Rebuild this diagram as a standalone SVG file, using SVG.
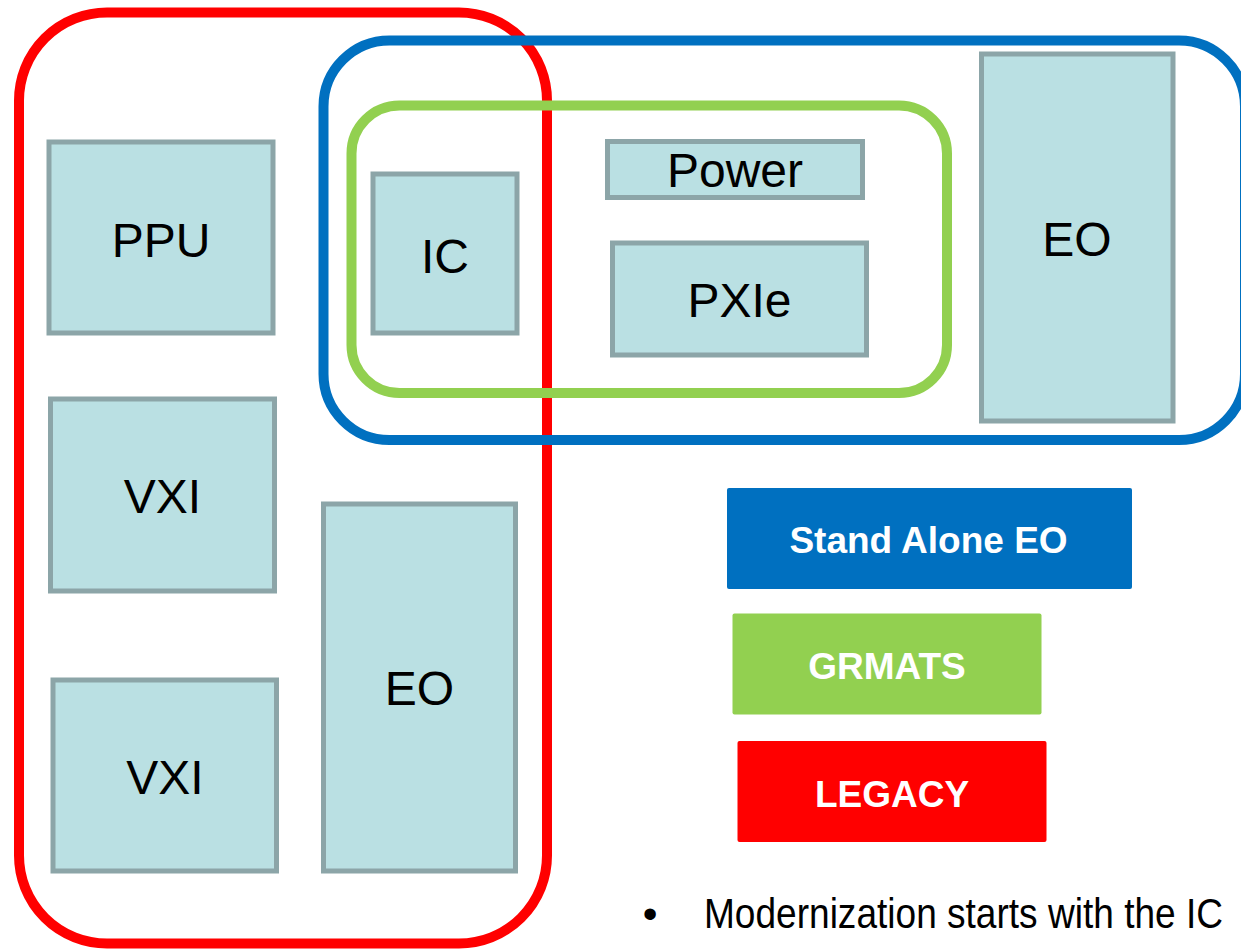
<svg xmlns="http://www.w3.org/2000/svg" width="1241" height="951" viewBox="0 0 1241 951">
<style>
.grp{fill:none;stroke-width:10}
.box{fill:#BAE0E3;stroke:#8CA5A8;stroke-width:5}
.lbl{font-family:"Liberation Sans",Arial,sans-serif;font-size:48px;fill:#000;text-anchor:middle}
.leg{font-family:"Liberation Sans",Arial,sans-serif;font-size:37px;font-weight:bold;fill:#fff;text-anchor:middle}
</style>
<rect width="1241" height="951" fill="#fff"/>
<text x="724" y="-9" font-family="Liberation Sans, Arial, sans-serif" font-size="44" font-weight="bold" text-anchor="middle" fill="#000">g</text>
<g id="groups">
<rect id="legacy-outline" class="grp" stroke="#FF0000" x="19" y="12.5" width="528" height="931" rx="88" ry="88"/>
<rect id="standalone-outline" class="grp" stroke="#0070C0" x="323.5" y="40.5" width="921.5" height="399.5" rx="66" ry="66"/>
<rect id="grmats-outline" class="grp" stroke="#92D050" x="351.5" y="105.5" width="595.5" height="287.5" rx="48" ry="48"/>
</g>
<g id="connectors"></g>
<g id="ppu"><rect class="box" x="49" y="142" width="224" height="191"/><text class="lbl" x="161" y="257">PPU</text></g>
<g id="vxi1"><rect class="box" x="50.5" y="399" width="224" height="192"/><text class="lbl" x="162.5" y="513">VXI</text></g>
<g id="vxi2"><rect class="box" x="53" y="680" width="223.5" height="191"/><text class="lbl" x="165" y="794">VXI</text></g>
<g id="eo-left"><rect class="box" x="323.5" y="504" width="192" height="367"/><text class="lbl" x="419.5" y="705">EO</text></g>
<g id="ic"><rect class="box" x="373" y="174" width="144" height="159"/><text class="lbl" x="445" y="272.5">IC</text></g>
<g id="power"><rect class="box" x="607.5" y="141.5" width="255" height="56"/><text class="lbl" x="735" y="186.5" font-size="46">Power</text></g>
<g id="pxie"><rect class="box" x="612.5" y="243" width="254" height="112"/><text class="lbl" x="739.5" y="316.5">PXIe</text></g>
<g id="eo-right"><rect class="box" x="981.5" y="54" width="191.5" height="367"/><text class="lbl" x="1077" y="256">EO</text></g>
<g id="legend-standalone"><rect x="727" y="488" width="405" height="101" rx="2" fill="#0070C0"/><text class="leg" x="928.5" y="553">Stand Alone EO</text></g>
<g id="legend-grmats"><rect x="732.5" y="613.5" width="309" height="101" rx="2" fill="#92D050"/><text class="leg" x="887" y="678.5">GRMATS</text></g>
<g id="legend-legacy"><rect x="737.5" y="741" width="309" height="101" rx="2" fill="#FF0000"/><text class="leg" x="892" y="806.5">LEGACY</text></g>
<g id="note">
<text x="650" y="928" font-family="Liberation Sans, Arial, sans-serif" font-size="42" text-anchor="middle" fill="#000">•</text>
<text x="704" y="928" font-family="Liberation Sans, Arial, sans-serif" font-size="42" textLength="519" lengthAdjust="spacingAndGlyphs" fill="#000">Modernization starts with the IC</text>
</g>
</svg>
